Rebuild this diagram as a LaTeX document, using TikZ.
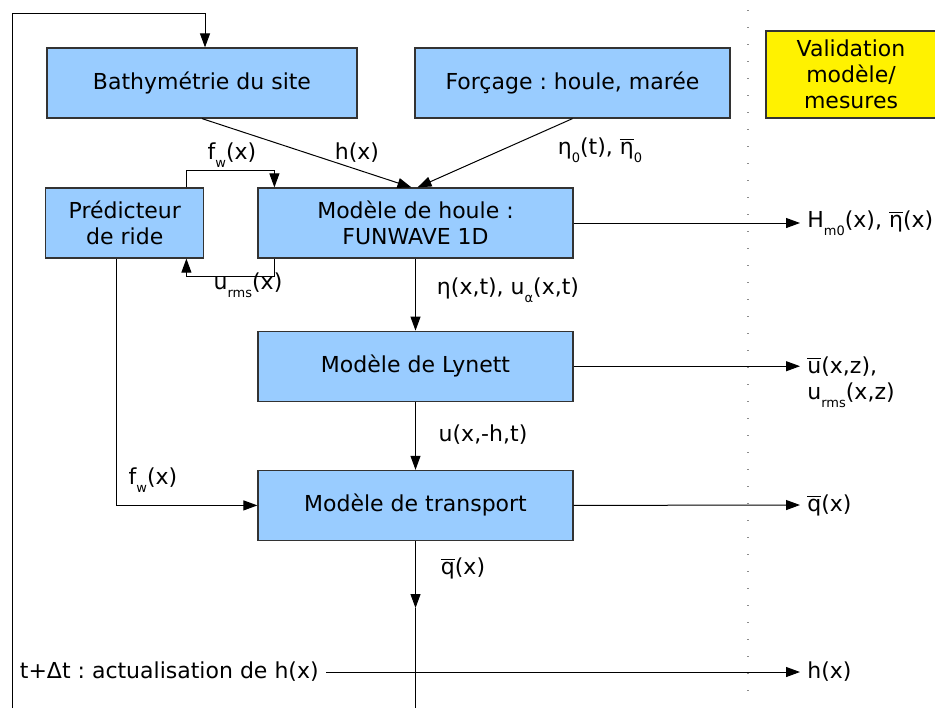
\documentclass[tikz,border=0pt]{standalone}
\usepackage{fontspec}
\setmainfont{DejaVu Sans}
\usepackage{xcolor}
\usepackage{tikz}
\usetikzlibrary{arrows.meta,positioning}
\definecolor{boxblue}{HTML}{99CCFF}
\newcommand{\idx}[1]{\raisebox{-3.8pt}{\fontsize{6.5}{6.5}\selectfont #1}}
\newcommand{\ovl}[1]{$\overline{\hbox{#1}}$}
\frenchspacing

\begin{document}
\begin{tikzpicture}[
  x=0.5pt, y=-0.5pt,
  box/.style={rectangle, draw=black!80, fill=boxblue, line width=0.6pt,
    minimum width=157.5pt, minimum height=35pt, inner sep=0pt, align=center,
    font=\fontsize{11}{13}\selectfont},
  valid/.style={box, fill=yellow, minimum width=85pt, minimum height=43.5pt},
  lbl/.style={font=\fontsize{11}{13}\selectfont, inner sep=3.5pt, align=left},
  arrow/.style={-{Triangle[length=7pt,width=5pt]}, line width=0.5pt},
  link/.style={line width=0.5pt},
  sep/.style={black!45, line width=0.6pt, dash pattern=on 0.6pt off 7.9pt}
]
\useasboundingbox (0,0) rectangle (935,708);

% inputs
\node[box, minimum width=155pt] (bathy) at (202,83) {Bathymétrie du site};
\node[box] (forcage) at (572.5,83) {Forçage : houle, marée};
\node[valid] (valid) at (851,74.5) {Validation\\modèle/\\mesures};

% models
\node[box] (houle) at (415.5,223) {Modèle de houle :\\FUNWAVE 1D};
\node[box, minimum width=79pt, left=26.5pt of houle] (predic) {Prédicteur\\de ride};
\node[box, below=36pt of houle] (lynett) {Modèle de Lynett};
\node[box, below=34pt of lynett] (transport) {Modèle de transport};

% outputs
\node[lbl, anchor=west] (outhoule) at (800,223) {H\idx{m0}(x), \ovl{η}(x)};
\node[lbl, anchor=west] (outlynett) at (800,382) {\ovl{u}(x,z),\\u\idx{rms}(x,z)};
\node[lbl, anchor=west] (outq) at (800,505) {\ovl{q}(x)};
\node[lbl, anchor=west] (outh) at (800,672) {h(x)};
\node[lbl, anchor=east] (update) at (326,672) {t+Δt : actualisation de h(x)};

% labels
\node[lbl] (lh) at (357,153) {h(x)};
\node[lbl] (lforc) at (600,150) {η\idx{0}(t), \ovl{η}\idx{0}};
\node[lbl] (lfw) at (232,155) {f\idx{w}(x)};
\node[lbl] (lurms) at (248,285) {u\idx{rms}(x)};
\node[lbl] (lhoule) at (508,290) {η(x,t), u\idx{α}(x,t)};
\node[lbl] (llyn) at (483,435) {u(x,-h,t)};
\node[lbl] (lfw2) at (153,480) {f\idx{w}(x)};
\node[lbl] (lq) at (463,568) {\ovl{q}(x)};

\coordinate (looptop) at (205,13);
\coordinate (loopstart) at (12,708);
\coordinate (qtip) at (415.5,608);
\coordinate (qend) at (415.5,708);

\draw[sep] (748,10) -- (748,700);

\draw[arrow] (loopstart) |- (looptop) -- ([xshift=1.5pt]bathy.north);
\draw[arrow] (bathy.south) -- ([xshift=-2pt]houle.north);
\draw[arrow] (forcage.south) -- ([xshift=1pt]houle.north);

\draw[arrow] ([xshift=-9pt]predic.north east) -- ++(0,-17) -| ([xshift=8.5pt]houle.north west);
\draw[arrow] ([xshift=8.5pt]houle.south west) -- ++(0,18) -| ([xshift=-9pt]predic.south east);

\draw[arrow] (houle.south) -- (lynett.north);
\draw[arrow] (lynett.south) -- (transport.north);
\draw[arrow] ([xshift=-4pt]predic.south) |- (transport.west);

\draw[arrow] (houle.east) -- (outhoule.west);
\draw[arrow] (lynett.east) -- (lynett.east -| outlynett.west);
\draw[arrow] (transport.east) -- (outq.west);

\draw[arrow] (transport.south) -- (qtip);
\draw[link] (qtip) -- (qend);
\draw[arrow] (update.east) -- (outh.west);

\end{tikzpicture}
\end{document}
